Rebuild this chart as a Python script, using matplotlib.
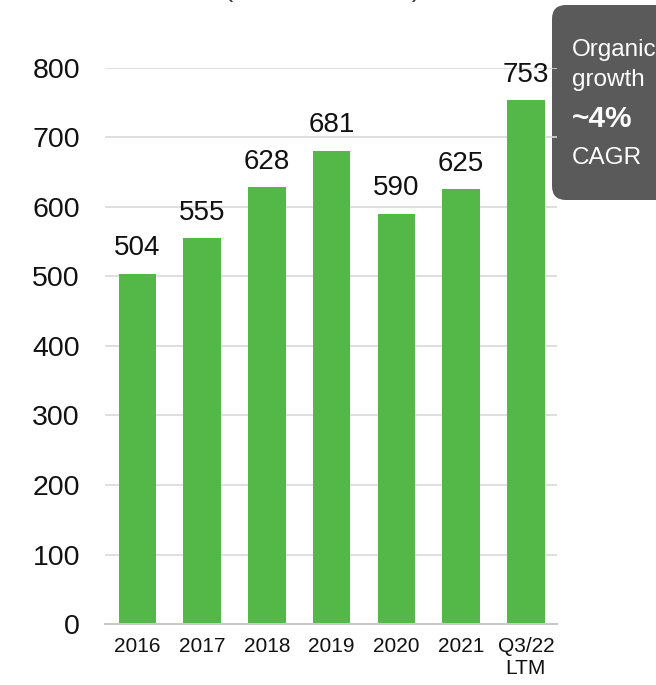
import numpy as np
import matplotlib.pyplot as plt
from matplotlib.patches import FancyBboxPatch

plt.rcParams['font.family'] = ['Liberation Sans', 'DejaVu Sans']

# data
years = ['2016', '2017', '2018', '2019', '2020', '2021', 'Q3/22\nLTM']
values = [504, 555, 628, 681, 590, 625, 753]
yticks = [0, 100, 200, 300, 400, 500, 600, 700, 800]

bar_color = '#53b848'
grid_color = '#d9d9d9'

fig = plt.figure(figsize=(6.56, 6.85), dpi=100)
ax = fig.add_axes([0.160, 0.089, 0.689, 0.812])
ax.set_facecolor('none')

x = np.arange(len(years))
bars = ax.bar(x, values, width=0.58, color=bar_color, zorder=2)

for xi, v in zip(x, values):
    ax.annotate(f'{v}', (xi, v), xytext=(0, 9), textcoords='offset points',
                ha='center', va='bottom', fontsize=20, color='#111111',
                annotation_clip=False)

ax.set_xlim(-0.5, 6.48)
ax.set_ylim(0, 800)
ax.set_yticks(yticks)
ax.set_yticklabels([str(t) for t in yticks], fontsize=20.5, color='#111111')
ax.set_xticks(x)
ax.set_xticklabels(years, fontsize=15, color='#111111', linespacing=1.25)
ax.tick_params(axis='y', length=0, pad=18)
ax.tick_params(axis='x', length=0, pad=9)

ax.grid(axis='y', color=grid_color, linewidth=1.2, zorder=0)
for s in ['top', 'right', 'left']:
    ax.spines[s].set_visible(False)
ax.spines['bottom'].set_color('#c8c8c8')
ax.spines['bottom'].set_linewidth(1.5)

# grey callout box on the right
box = FancyBboxPatch((5.52, 4.85), 1.6, 1.95,
                     boxstyle='round,pad=0,rounding_size=0.14',
                     transform=fig.dpi_scale_trans, facecolor='#5a5a5a',
                     edgecolor='none', zorder=-1)
fig.patches.append(box)
fig.text(572 / 656, 1 - 50 / 685, 'Organic', color='white', fontsize=17.5, va='center')
fig.text(572 / 656, 1 - 80 / 685, 'growth', color='white', fontsize=17.5, va='center')
fig.text(572 / 656, 1 - 119 / 685, '~4%', color='white', fontsize=21.5,
         fontweight='bold', va='center')
fig.text(572 / 656, 1 - 158 / 685, 'CAGR', color='white', fontsize=17.5, va='center')

# cut-off title at the top
fig.text(323 / 656, 1 + 4 / 685, '(                       )', color='#404040',
         fontsize=20, ha='center', va='baseline')

fig.savefig('out.png', dpi=100)
